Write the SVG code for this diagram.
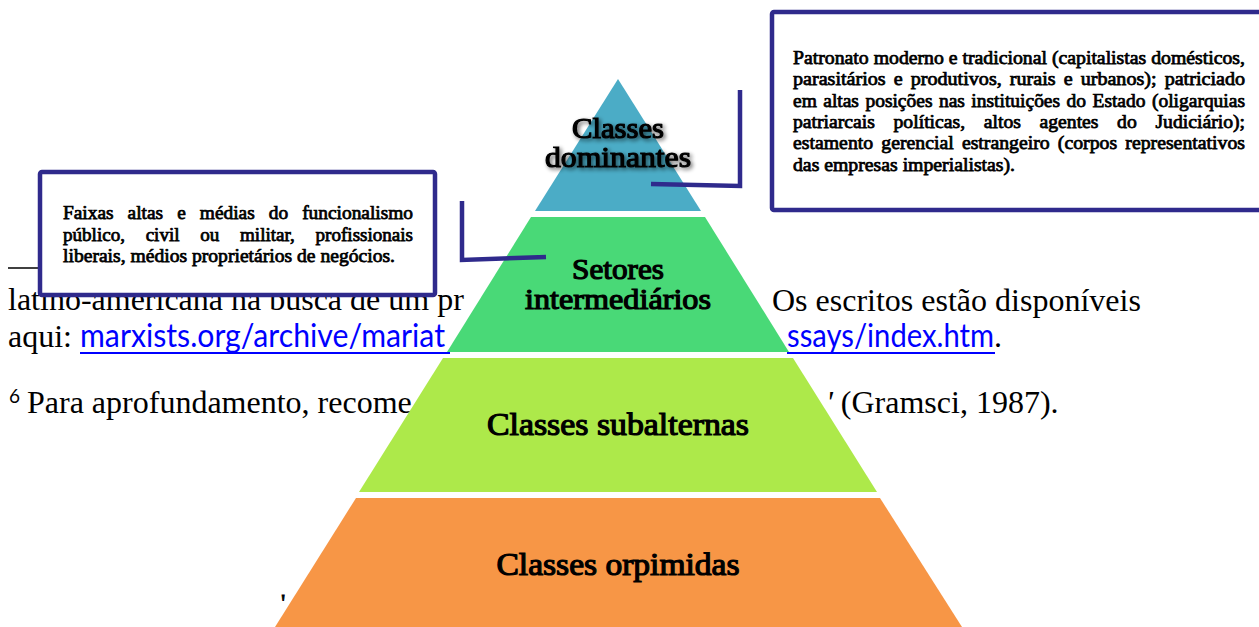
<svg xmlns="http://www.w3.org/2000/svg" width="1259" height="627" viewBox="0 0 1259 627">
<defs>
<style>
.doc{font-family:"Liberation Serif","Times New Roman",serif;font-size:32px;fill:#000}
.link{font-family:Lato,"Open Sans",sans-serif;font-size:32px;fill:#0000FF}
.box{fill:#fff;stroke:#2F2A8C;stroke-width:4.5}
.bt{font-family:"Liberation Serif","Times New Roman",serif;font-size:18.5px;fill:#000;stroke:#000;stroke-width:0.75}
.lab{font-family:"Liberation Serif","Times New Roman",serif;fill:#000;stroke:#000;stroke-width:1.2;text-anchor:middle}
.conn{fill:none;stroke:#2F2A8C;stroke-width:4.5;stroke-linejoin:miter}
</style>
<filter id="sh" x="-20%" y="-30%" width="140%" height="160%">
<feGaussianBlur in="SourceAlpha" stdDeviation="2"/>
<feOffset dx="2" dy="2" result="b"/>
<feComponentTransfer><feFuncA type="linear" slope="0.6"/></feComponentTransfer>
<feMerge><feMergeNode/><feMergeNode in="SourceGraphic"/></feMerge>
</filter>
</defs>
<rect width="1259" height="627" fill="#fff"/>
<g id="background-text">
<line x1="8" y1="268" x2="200" y2="268" stroke="#000" stroke-width="1.5"/>
<text class="doc" x="8" y="310">latino-americana na busca de um pr</text>
<text class="doc" x="772" y="311">Os escritos estão disponíveis</text>
<text class="doc" x="8" y="347">aqui: </text>
<text class="link" x="80" y="347" textLength="365" lengthAdjust="spacingAndGlyphs">marxists.org/archive/mariat</text>
<line x1="80" y1="353" x2="450" y2="353" stroke="#0000FF" stroke-width="2"/>
<text class="doc" x="787" y="347"><tspan class="link" textLength="207" lengthAdjust="spacingAndGlyphs">ssays/index.htm</tspan>.</text>
<line x1="787" y1="353" x2="995" y2="353" stroke="#0000FF" stroke-width="2"/>
<text x="9" y="403" style="font-family:Lato,'Open Sans',sans-serif;font-size:19px;fill:#000">6</text>
<text class="doc" x="27" y="413">Para aprofundamento, recome</text>
<text class="doc" x="826" y="413"><tspan font-style="italic">'</tspan> (Gramsci, 1987).</text>
<text class="doc" x="281" y="610" style="font-size:24px;stroke:#000;stroke-width:0.8">'</text>
</g>
<g id="pyramid">
<g id="tier-dominantes">
<polygon points="618,79 701,211 535,211" fill="#4BACC6"/>
<g filter="url(#sh)">
<text class="lab" x="618" y="138" font-size="29.5" textLength="92" lengthAdjust="spacingAndGlyphs">Classes</text>
<text class="lab" x="618" y="167" font-size="29.5" textLength="146" lengthAdjust="spacingAndGlyphs">dominantes</text>
</g>
</g>
<g id="tier-intermediarios">
<polygon points="531,217 705,217 789,352 447,352" fill="#49D977"/>
<text class="lab" x="618" y="279" font-size="29.5" textLength="92" lengthAdjust="spacingAndGlyphs">Setores</text>
<text class="lab" x="618" y="309" font-size="29.5" textLength="186" lengthAdjust="spacingAndGlyphs">intermediários</text>
</g>
<g id="tier-subalternas">
<polygon points="443,358 793,358 877,492 359,492" fill="#ADE94A"/>
<text class="lab" x="618" y="435" font-size="31.5" textLength="262" lengthAdjust="spacingAndGlyphs">Classes subalternas</text>
</g>
<g id="tier-oprimidas">
<polygon points="356,498 880,498 962,627 275,627" fill="#F79646"/>
<text class="lab" x="618" y="575" font-size="31.5" textLength="243" lengthAdjust="spacingAndGlyphs">Classes orpimidas</text>
</g>
</g>
<g id="callout-dominantes">
<rect class="box" x="772" y="12" width="500" height="198" rx="2"/>
<text class="bt" x="793" y="64" textLength="452" lengthAdjust="spacingAndGlyphs">Patronato moderno e tradicional (capitalistas domésticos,</text>
<text class="bt" x="793" y="85.3" word-spacing="2.8" textLength="452" lengthAdjust="spacingAndGlyphs">parasitários e produtivos, rurais e urbanos); patriciado</text>
<text class="bt" x="793" y="106.6" word-spacing="1.5" textLength="452" lengthAdjust="spacingAndGlyphs">em altas posições nas instituições do Estado (oligarquias</text>
<text class="bt" x="793" y="128" word-spacing="12.9" textLength="452" lengthAdjust="spacingAndGlyphs">patriarcais políticas, altos agentes do Judiciário);</text>
<text class="bt" x="793" y="149.3" word-spacing="3" textLength="452" lengthAdjust="spacingAndGlyphs">estamento gerencial estrangeiro (corpos representativos</text>
<text class="bt" x="793" y="170.6" textLength="222" lengthAdjust="spacingAndGlyphs">das empresas imperialistas).</text>
</g>
<g id="callout-intermediarios">
<rect class="box" x="40" y="172" width="395" height="123" rx="2"/>
<text class="bt" x="63" y="219" word-spacing="8.8" textLength="350" lengthAdjust="spacingAndGlyphs">Faixas altas e médias do funcionalismo</text>
<text class="bt" x="63" y="240.5" word-spacing="15.5" textLength="350" lengthAdjust="spacingAndGlyphs">público, civil ou militar, profissionais</text>
<text class="bt" x="63" y="262" textLength="332" lengthAdjust="spacingAndGlyphs">liberais, médios proprietários de negócios.</text>
</g>
<g id="connectors">
<polyline class="conn" points="740,90 740,186 651,184"/>
<polyline class="conn" points="462,201 462,260 546,257"/>
</g>
</svg>
